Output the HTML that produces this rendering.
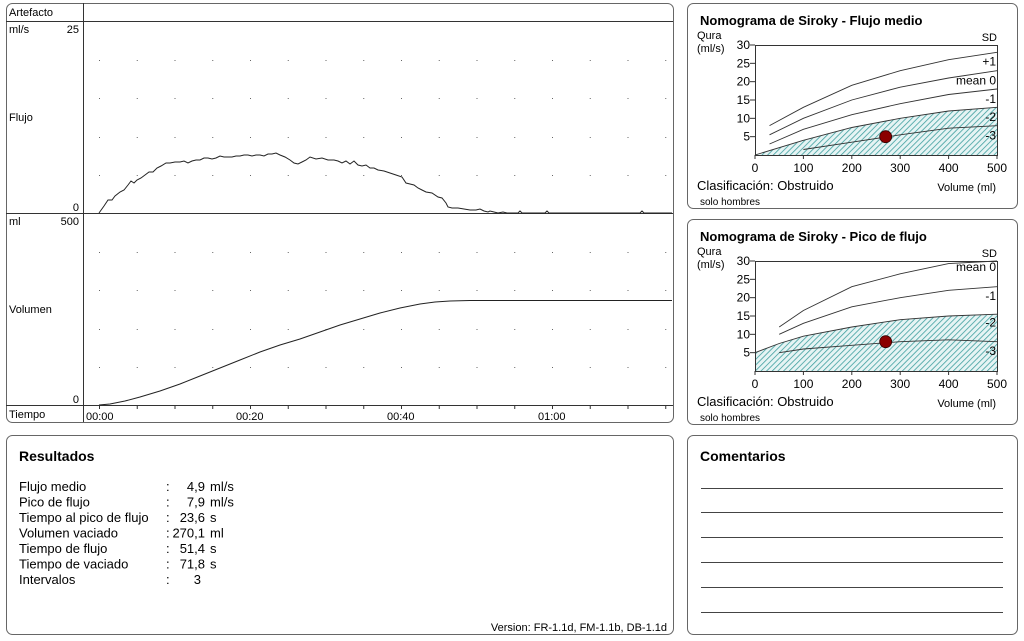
<!DOCTYPE html>
<html><head><meta charset="utf-8"><style>
html,body{margin:0;padding:0;background:#fff;}
svg{display:block;font-family:"Liberation Sans",Arial,sans-serif;}
</style></head><body>
<svg id="s" width="1024" height="641" viewBox="0 0 1024 641" xmlns="http://www.w3.org/2000/svg">
<defs>
<pattern id="h" patternUnits="userSpaceOnUse" width="4" height="4" patternTransform="rotate(45)">
<rect width="4" height="4" fill="#e6f4f4"/><line x1="0" y1="0" x2="0" y2="4" stroke="#3f9f9f" stroke-width="1.6"/>
</pattern>
</defs>
<g fill="none" stroke="#666" stroke-width="1">
<rect x="6.5" y="3.5" width="667" height="419" rx="6"/>
<rect x="687.5" y="3.5" width="330" height="205" rx="6"/>
<rect x="687.5" y="219.5" width="330" height="205" rx="6"/>
<rect x="6.5" y="435.5" width="667" height="199" rx="6"/>
<rect x="687.5" y="435.5" width="330" height="199" rx="6"/>
</g>
<g stroke="#333" stroke-width="1">
<line x1="83.5" y1="3" x2="83.5" y2="422"/>
<line x1="6" y1="21.5" x2="673" y2="21.5"/>
<line x1="6" y1="213.5" x2="673" y2="213.5"/>
<line x1="6" y1="405.5" x2="673" y2="405.5"/>
</g>
<g font-size="11" fill="#000">
<text x="9" y="16">Artefacto</text>
<text x="9" y="33">ml/s</text><text x="79" y="33" text-anchor="end">25</text>
<text x="9" y="121">Flujo</text>
<text x="79" y="211" text-anchor="end">0</text>
<text x="9" y="225">ml</text><text x="79" y="225" text-anchor="end">500</text>
<text x="9" y="313">Volumen</text>
<text x="79" y="403" text-anchor="end">0</text>
<text x="9" y="418">Tiempo</text>
<text x="86" y="420">00:00</text>
<text x="236" y="420">00:20</text>
<text x="387" y="420">00:40</text>
<text x="538" y="420">01:00</text>
</g>
<g id="dots" fill="#666"></g>
<g id="ticks" stroke="#333"></g>
<path id="flow" fill="none" stroke="#222" stroke-width="1"/>
<path id="vol" fill="none" stroke="#222" stroke-width="1"/>

<g id="n1"></g><g id="n2"></g>

<g font-size="14" font-weight="bold"><text x="19" y="461">Resultados</text><text x="700" y="461">Comentarios</text></g>
<g font-size="13" fill="#000">
<text x="19" y="491">Flujo medio</text><text x="166" y="491">:</text><text x="205" y="491" text-anchor="end">4,9</text><text x="210" y="491">ml/s</text>
<text x="19" y="506.5">Pico de flujo</text><text x="166" y="506.5">:</text><text x="205" y="506.5" text-anchor="end">7,9</text><text x="210" y="506.5">ml/s</text>
<text x="19" y="522">Tiempo al pico de flujo</text><text x="166" y="522">:</text><text x="205" y="522" text-anchor="end">23,6</text><text x="210" y="522">s</text>
<text x="19" y="537.5">Volumen vaciado</text><text x="166" y="537.5">:</text><text x="205" y="537.5" text-anchor="end">270,1</text><text x="210" y="537.5">ml</text>
<text x="19" y="553">Tiempo de flujo</text><text x="166" y="553">:</text><text x="205" y="553" text-anchor="end">51,4</text><text x="210" y="553">s</text>
<text x="19" y="568.5">Tiempo de vaciado</text><text x="166" y="568.5">:</text><text x="205" y="568.5" text-anchor="end">71,8</text><text x="210" y="568.5">s</text>
<text x="19" y="584">Intervalos</text><text x="166" y="584">:</text><text x="201" y="584" text-anchor="end">3</text>
</g>
<text x="667" y="631" font-size="11" text-anchor="end">Version: FR-1.1d, FM-1.1b, DB-1.1d</text>
<g stroke="#444" stroke-width="1">
<line x1="701" y1="488.5" x2="1003" y2="488.5"/><line x1="701" y1="512.5" x2="1003" y2="512.5"/>
<line x1="701" y1="537.5" x2="1003" y2="537.5"/><line x1="701" y1="562.5" x2="1003" y2="562.5"/>
<line x1="701" y1="587.5" x2="1003" y2="587.5"/><line x1="701" y1="612.5" x2="1003" y2="612.5"/>
</g>
</svg>
<script>
var NS="http://www.w3.org/2000/svg";
function el(p,t,a,txt){var e=document.createElementNS(NS,t);for(var k in a)e.setAttribute(k,a[k]);if(txt!=null)e.textContent=txt;p.appendChild(e);return e;}
var dots=document.getElementById('dots'),ticks=document.getElementById('ticks');
for(var i=0;i<16;i++){var x=99+37.75*i;
 [60,98,137,175,252,290,329,367].forEach(function(y){el(dots,'rect',{x:x,y:y,width:1,height:1});});
 el(ticks,'line',{x1:x+0.5,y1:405,x2:x+0.5,y2:409});}
var fp=[[99,213],[104,206],[108,200],[112,200],[115,196],[120,192],[124,190],[128,185],[131,181],[134,183],[137,180],[141,178],[145,175],[149,172],[153,172],[157,168],[161,166],[166,163],[170,163],[175,162],[180,162],[184,161],[188,163],[192,161],[196,160],[200,160],[204,158],[208,158],[212,159],[216,158],[220,156],[224,157],[228,157],[232,157],[236,156],[240,156],[244,155],[248,155],[252,156],[256,155],[260,155],[264,156],[268,154],[272,154],[276,153],[280,155],[285,157],[290,160],[294,163],[298,164],[302,162],[306,160],[310,157],[316,159],[322,158],[328,160],[334,160],[338,161],[342,163],[346,161],[350,164],[354,161],[358,165],[362,166],[366,165],[370,168],[374,168],[378,170],[384,171],[390,173],[396,175],[402,177],[406,183],[410,184],[414,185],[418,188],[422,190],[426,192],[432,193],[438,197],[442,198],[446,203],[448,207],[452,208],[458,208],[464,209],[470,210],[476,210],[480,209],[484,211],[488,212],[490,211],[494,212],[498,213],[503,212],[507,213],[518,213],[520,211],[522,213],[545,213],[547,211],[549,213],[640,213],[642,211],[644,213],[672,213]];
document.getElementById('flow').setAttribute('d','M'+fp.map(function(p){return p.join(',');}).join('L'));
var vp=[[99,405],[110,404],[125,401],[140,397],[160,391],[180,384],[200,376],[220,368],[240,360],[260,352],[280,345],[300,339],[320,332],[340,325],[360,319],[380,313],[400,308],[420,304],[435,302],[450,301],[470,300.5],[672,300.5]];
document.getElementById('vol').setAttribute('d','M'+vp.map(function(p){return p.join(',');}).join('L'));

function nomo(g,top,title,curves,hatchIdx,labels,pt){
 var X=function(v){return 755+v*0.484;},y0=top+110,sc=110/30,Y=function(q){return y0-q*sc;};
 el(g,'text',{x:700,y:top-20,'font-size':13,'font-weight':'bold'},title);
 el(g,'text',{x:697,y:top-6,'font-size':11},'Qura');
 el(g,'text',{x:697,y:top+7,'font-size':11},'(ml/s)');
 el(g,'text',{x:997,y:top-4,'font-size':11,'text-anchor':'end'},'SD');
 var hc=curves[hatchIdx];var d='M'+X(hc[0][0])+','+y0;hc.forEach(function(p){d+='L'+X(p[0])+','+Y(p[1]);});d+='L'+X(500)+','+y0+'Z';
 el(g,'path',{d:d,fill:'url(#h)',stroke:'none'});
 el(g,'rect',{x:755.5,y:top+0.5,width:242,height:110,fill:'none',stroke:'#333'});
 curves.forEach(function(c){el(g,'path',{d:'M'+c.map(function(p){return X(p[0])+','+Y(p[1]);}).join('L'),fill:'none',stroke:'#333','stroke-width':0.9});});
 for(var q=5;q<=30;q+=5){el(g,'line',{x1:750,y1:Y(q),x2:755,y2:Y(q),stroke:'#333'});el(g,'text',{x:750,y:Y(q)+4,'font-size':12,'text-anchor':'end'},q);}
 for(var v=0;v<=500;v+=100){el(g,'line',{x1:X(v),y1:y0,x2:X(v),y2:y0+4,stroke:'#333'});el(g,'text',{x:X(v),y:y0+17,'font-size':12,'text-anchor':'middle'},v);}
 labels.forEach(function(l){el(g,'text',{x:996,y:Y(l[1])+4,'font-size':12,'text-anchor':'end'},l[0]);});
 el(g,'circle',{cx:X(pt[0]),cy:Y(pt[1]),r:6,fill:'#8b0000',stroke:'#300','stroke-width':0.8});
 el(g,'text',{x:697,y:y0+35,'font-size':13},'Clasificación: Obstruido');
 el(g,'text',{x:996,y:y0+36,'font-size':11,'text-anchor':'end'},'Volume (ml)');
 el(g,'text',{x:700,y:y0+50,'font-size':10},'solo hombres');
}
nomo(document.getElementById('n1'),45,'Nomograma de Siroky - Flujo medio',[
 [[30,8],[100,13],[200,19],[300,23],[400,26],[500,28]],
 [[30,5.5],[100,10],[200,15],[300,18.5],[400,21],[500,23]],
 [[30,3],[100,7],[200,11],[300,14],[400,16.5],[500,18]],
 [[0,0],[100,4],[200,7.5],[300,10],[400,12],[500,13]],
 [[100,1.5],[200,3.5],[300,5.5],[400,7.3],[500,8]]],3,
 [['+1',25.5],['mean 0',20.3],['-1',15.3],['-2',10.3],['-3',5.3]],[270,5]);
nomo(document.getElementById('n2'),261,'Nomograma de Siroky - Pico de flujo',[
 [[50,12],[100,16.5],[200,23],[300,26.5],[400,29.3],[500,30]],
 [[50,10],[100,13],[200,17.5],[300,20],[400,22],[500,23]],
 [[0,5],[50,7.5],[100,9.5],[200,12],[300,14],[400,15],[500,15.5]],
 [[50,5],[100,6],[200,7],[300,8],[400,8.5],[500,8]]],2,
 [['mean 0',28.3],['-1',20.5],['-2',13.2],['-3',5.5]],[270,8]);
</script>
</body></html>
